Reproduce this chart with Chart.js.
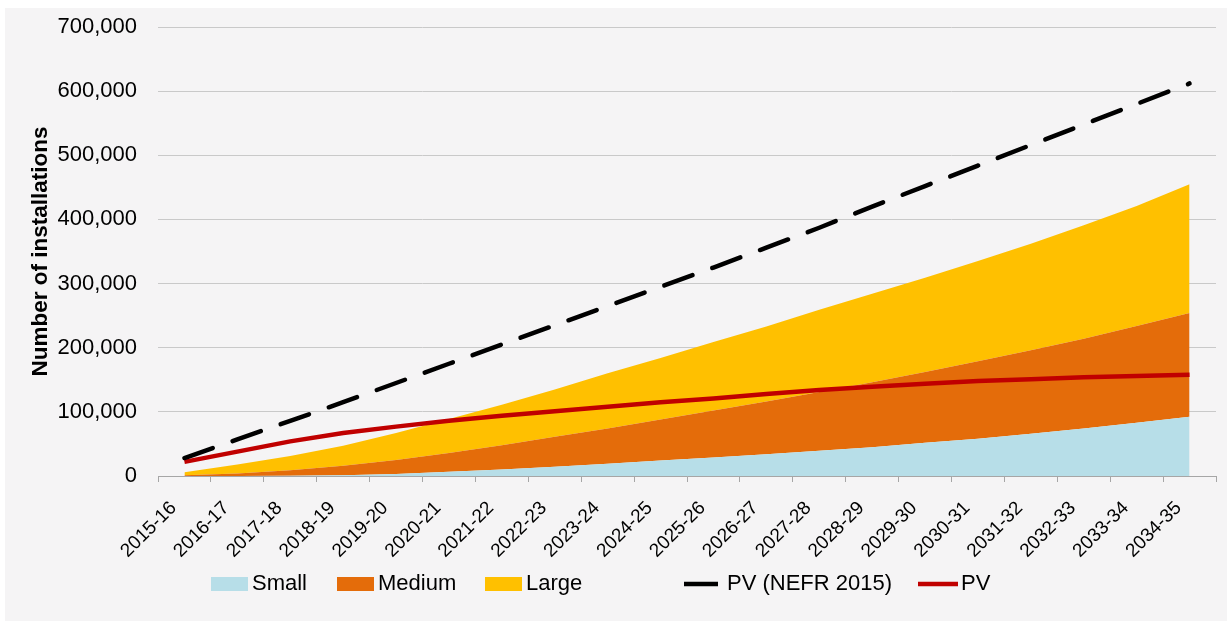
<!DOCTYPE html>
<html>
<head>
<meta charset="utf-8">
<title>PV installations</title>
<script src="https://cdn.jsdelivr.net/npm/chart.js@4.4.0/dist/chart.umd.min.js"></script>
<style>
    html, body { margin: 0; padding: 0; background: #ffffff; }
    #panel { position: absolute; left: 5px; top: 8px; width: 1222px; height: 613px; background: #f5f4f5; }
</style>
</head>
<body>
<div id="panel"><canvas id="installChart" width="1222" height="613"></canvas></div>
<script>
// Datos del grafico (numero de instalaciones)
const categories = ['2015-16', '2016-17', '2017-18', '2018-19', '2019-20', '2020-21', '2021-22',
    '2022-23', '2023-24', '2024-25', '2025-26', '2026-27', '2027-28', '2028-29', '2029-30',
    '2030-31', '2031-32', '2032-33', '2033-34', '2034-35'];

const smallValues = [0, 0, 500, 1000, 3000, 6500, 10000, 14500, 19000, 24000,
    29000, 34000, 39500, 45000, 52000, 58000, 66000, 74000, 83000, 92500];
const mediumValues = [1000, 4000, 8500, 15000, 22000, 29500, 38000, 46500, 55000, 64000,
    73000, 82000, 91500, 101000, 110000, 121000, 130000, 140000, 151000, 161500];
const largeValues = [5000, 14000, 22000, 31000, 42000, 53000, 63000, 74000, 86000, 96000,
    107000, 117000, 128000, 138000, 147000, 156000, 166000, 177000, 187000, 201000];
const pvNefrValues = [28000, 57000, 86000, 115000, 145000, 175000, 205000, 235000, 265000, 295000,
    325000, 356000, 387000, 420000, 452000, 484000, 516000, 548000, 580000, 612000];
const pvValues = [22000, 38000, 54000, 67000, 77000, 86000, 94000, 101000, 108000, 115000,
    121000, 128000, 134000, 139000, 144000, 148000, 151000, 154000, 156000, 158000];

const yTicks = [0, 100000, 200000, 300000, 400000, 500000, 600000, 700000];

Chart.defaults.font.family = '"Liberation Sans", Arial, sans-serif';
Chart.defaults.color = '#000000';

// Leyenda dibujada a mano (espaciado como en el original)
const legendSlots = [
    { symbolX: 206, symbolW: 37, textX: 247 },
    { symbolX: 332, symbolW: 37, textX: 373 },
    { symbolX: 480, symbolW: 37, textX: 521 },
    { symbolX: 679, symbolW: 34, textX: 722 },
    { symbolX: 913, symbolW: 40, textX: 956 }
];
const legendY = 576;

const manualLegend = {
    id: 'manualLegend',
    afterDraw(chart) {
        const c = chart.ctx;
        c.save();
        c.font = '22px "Liberation Sans", Arial, sans-serif';
        c.textBaseline = 'middle';
        c.textAlign = 'left';
        chart.data.datasets.forEach((ds, i) => {
            const slot = legendSlots[i];
            if (ds.fill === false) {
                c.strokeStyle = ds.borderColor;
                c.lineWidth = 4.5;
                c.setLineDash([]);
                c.beginPath();
                c.moveTo(slot.symbolX, legendY);
                c.lineTo(slot.symbolX + slot.symbolW, legendY);
                c.stroke();
            } else {
                c.fillStyle = ds.backgroundColor;
                c.fillRect(slot.symbolX, legendY - 7, slot.symbolW, 14);
            }
            c.fillStyle = '#000000';
            c.fillText(ds.label, slot.textX, legendY);
        });
        c.restore();
    }
};

const ctx = document.getElementById('installChart').getContext('2d');
const installChart = new Chart(ctx, {
    type: 'line',
    data: {
        labels: categories,
        datasets: [
            {
                label: 'Small',
                data: smallValues,
                backgroundColor: '#b7dee8',
                borderColor: 'rgba(0,0,0,0)',
                borderWidth: 0,
                fill: 'origin',
                stack: 'areas',
                order: 2
            },
            {
                label: 'Medium',
                data: mediumValues,
                backgroundColor: '#e46c0a',
                borderColor: 'rgba(0,0,0,0)',
                borderWidth: 0,
                fill: '-1',
                stack: 'areas',
                order: 2
            },
            {
                label: 'Large',
                data: largeValues,
                backgroundColor: '#ffc000',
                borderColor: 'rgba(0,0,0,0)',
                borderWidth: 0,
                fill: '-1',
                stack: 'areas',
                order: 2
            },
            {
                label: 'PV (NEFR 2015)',
                data: pvNefrValues,
                borderColor: '#000000',
                backgroundColor: '#000000',
                borderWidth: 4.5,
                borderDash: [30, 21],
                borderCapStyle: 'round',
                fill: false,
                stack: 'nefr',
                order: 0
            },
            {
                label: 'PV',
                data: pvValues,
                borderColor: '#c00000',
                backgroundColor: '#c00000',
                borderWidth: 4.5,
                fill: false,
                stack: 'pv',
                order: 1
            }
        ]
    },
    plugins: [manualLegend],
    options: {
        responsive: false,
        animation: false,
        devicePixelRatio: 1,
        layout: {
            padding: { top: 19, right: 11, bottom: 45, left: 0 }
        },
        elements: {
            line: { tension: 0 },
            point: { radius: 0, hoverRadius: 0 }
        },
        plugins: {
            tooltip: { enabled: false },
            legend: { display: false }
        },
        scales: {
            x: {
                offset: true,
                afterFit: (scale) => { scale.height = 100; },
                grid: {
                    offset: true,
                    drawOnChartArea: false,
                    drawTicks: true,
                    tickLength: 6,
                    color: '#a6a6a6'
                },
                border: { display: true, color: '#a6a6a6', width: 1 },
                ticks: {
                    autoSkip: false,
                    maxRotation: 45,
                    minRotation: 45,
                    padding: 15,
                    labelOffset: -11,
                    color: '#000000',
                    font: { size: 19 }
                }
            },
            y: {
                stacked: true,
                min: 0,
                max: 700000,
                afterBuildTicks: (scale) => {
                    scale.ticks = yTicks.map(v => ({ value: v }));
                },
                afterFit: (scale) => { scale.width = 153; },
                ticks: {
                    padding: 0,
                    color: '#000000',
                    font: { size: 22 }
                },
                grid: {
                    color: '#c9c9c9',
                    lineWidth: 1,
                    drawTicks: true,
                    tickLength: 21,
                    tickColor: 'rgba(0,0,0,0)'
                },
                border: { display: false },
                title: {
                    display: true,
                    text: 'Number of installations',
                    color: '#000000',
                    font: { size: 22.5, weight: 'bold' },
                    padding: { top: 22, bottom: 0 }
                }
            }
        }
    }
});
</script>
</body>
</html>
